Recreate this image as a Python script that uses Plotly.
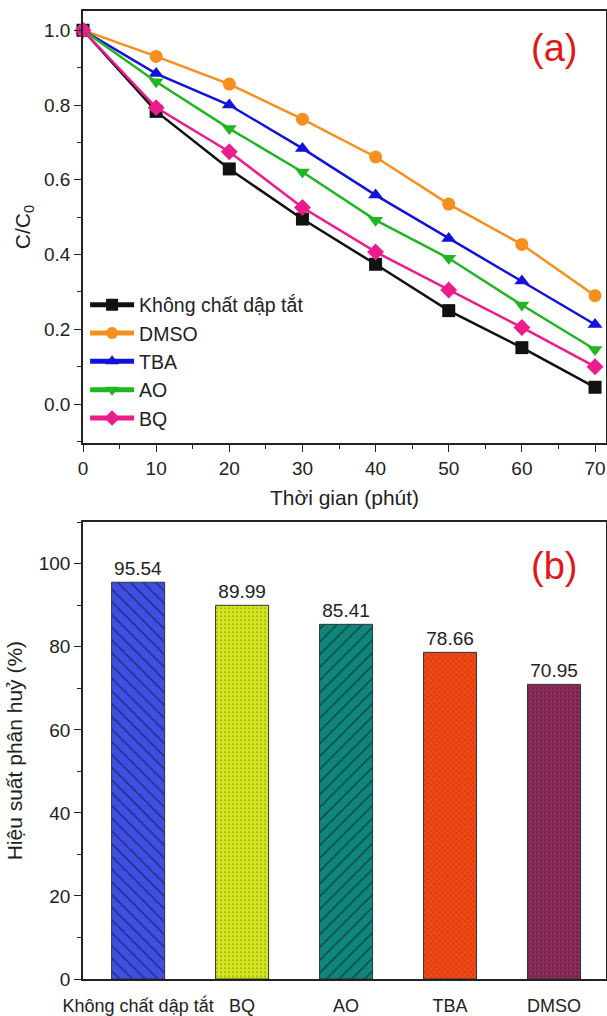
import plotly.graph_objects as go

# ---------------- data ----------------
time_min = [0, 10, 20, 30, 40, 50, 60, 70]
series_names = ["Không chất dập tắt", "DMSO", "TBA", "AO", "BQ"]
c_none = [1.0, 0.783, 0.629, 0.495, 0.374, 0.25, 0.151, 0.045]
c_dmso = [1.0, 0.930, 0.856, 0.762, 0.661, 0.535, 0.427, 0.290]
c_tba = [1.0, 0.884, 0.800, 0.684, 0.559, 0.443, 0.329, 0.213]
c_ao = [1.0, 0.862, 0.737, 0.621, 0.492, 0.390, 0.265, 0.146]
c_bq = [1.0, 0.793, 0.675, 0.526, 0.407, 0.305, 0.205, 0.100]

bar_cats = ["Không chất dập tắt", "BQ", "AO", "TBA", "DMSO"]
bar_vals = [95.54, 89.99, 85.41, 78.66, 70.95]

line_colors = ["#111111", "#F5901E", "#1212DC", "#22B522", "#EC1C8C"]
line_symbols = ["square", "circle", "triangle-up", "triangle-down", "diamond"]
bar_colors = ["#3F4FE2", "#D4E620", "#0F857C", "#F24A16", "#8C2C58"]
bar_pattern_fg = ["#1A2470", "#7C8A10", "#053C38", "#8E2206", "#4E1430"]
bar_shapes = ["\\", ".", "/", "x", "."]
bar_pattern_sizes = [9, 4, 9, 4, 4]

FONT = "Arial, Liberation Sans, sans-serif"

fig = go.Figure()

series_vals = [c_none, c_dmso, c_tba, c_ao, c_bq]
for name, vals, col, sym in zip(series_names, series_vals, line_colors, line_symbols):
    fig.add_trace(go.Scatter(
        x=time_min, y=vals, name=name, mode="lines+markers",
        line=dict(color=col, width=2.5),
        marker=dict(symbol=sym, size=13, color=col),
        xaxis="x", yaxis="y", cliponaxis=False,
    ))

for cat, val, col, fg, shp, psz in zip(bar_cats, bar_vals, bar_colors,
                                       bar_pattern_fg, bar_shapes, bar_pattern_sizes):
    fig.add_trace(go.Bar(
        x=[cat], y=[val], xaxis="x2", yaxis="y2", showlegend=False,
        width=0.51,
        marker=dict(
            color=col,
            line=dict(color="#333333", width=1),
            pattern=dict(shape=shp, fgcolor=fg, fgopacity=0.9, size=psz,
                         solidity=0.15, fillmode="overlay"),
        ),
        text=[f"{val:.2f}"], textposition="outside",
        textfont=dict(size=19, color="#222222", family=FONT),
        cliponaxis=False,
    ))

axis_common = dict(
    showline=True, linecolor="#222222", linewidth=1.5, mirror=True,
    ticks="outside", ticklen=7, tickwidth=1.2, tickcolor="#222222",
    showgrid=False, zeroline=False, automargin=False,
    tickfont=dict(size=19, color="#222222", family=FONT),
)

fig.update_layout(
    width=607, height=1016,
    margin=dict(l=83, r=1, t=0, b=0),
    paper_bgcolor="white", plot_bgcolor="white",
    font=dict(family=FONT, color="#222222"),
    barmode="overlay",
    xaxis=dict(**axis_common, domain=[0, 1], anchor="y", range=[0, 71.5],
               tickvals=[0, 10, 20, 30, 40, 50, 60, 70],
               minor=dict(dtick=5, tick0=0, ticks="outside", ticklen=4, tickcolor="#222222"),
               title=dict(text="Thời gian (phút)", font=dict(size=21, family=FONT), standoff=13)),
    yaxis=dict(**axis_common, domain=[0.564, 0.989], anchor="x", range=[-0.104, 1.051],
               tickvals=[0, 0.2, 0.4, 0.6, 0.8, 1.0], tickformat=".1f",
               minor=dict(dtick=0.1, tick0=0, ticks="outside", ticklen=4, tickcolor="#222222"),
               title=dict(text="C/C<sub>0</sub>", font=dict(size=21, family=FONT), standoff=8)),
    xaxis2=dict(**{k: v for k, v in axis_common.items() if k not in ("ticks", "tickfont", "ticklen", "tickcolor")},
                ticks="outside", ticklen=10, tickcolor="rgba(0,0,0,0)",
                domain=[0, 1], anchor="y2", range=[-0.53, 4.5],
                type="category", tickangle=0,
                tickfont=dict(size=18, color="#222222", family=FONT)),
    yaxis2=dict(**axis_common, domain=[0.0364, 0.486], anchor="x2", range=[0, 110],
                tickvals=[0, 20, 40, 60, 80, 100],
                minor=dict(dtick=10, tick0=0, ticks="outside", ticklen=4, tickcolor="#222222"),
                title=dict(text="Hiệu suất phân huỷ (%)", font=dict(size=21, family=FONT), standoff=10)),
    legend=dict(x=0.004, y=0.719, xanchor="left", yanchor="top",
                bgcolor="rgba(0,0,0,0)", font=dict(size=19.5, family=FONT, color="#222222"),
                tracegroupgap=0, itemsizing="constant", itemwidth=44),
    annotations=[
        dict(text="(a)", x=554, y=48, xref="paper", yref="paper",
             showarrow=False, font=dict(size=38, color="#E01818", family=FONT)),
        dict(text="(b)", x=554, y=566, xref="paper", yref="paper",
             showarrow=False, font=dict(size=38, color="#E01818", family=FONT)),
    ],
)

# convert pixel positions of the panel labels to paper coordinates
for ann in fig.layout.annotations:
    px, py = ann.x, ann.y
    ann.x = (px - 83) / (607 - 83 - 1)
    ann.y = 1 - py / 1016
    ann.xanchor = "center"
    ann.yanchor = "middle"

fig.write_html("out.html")
